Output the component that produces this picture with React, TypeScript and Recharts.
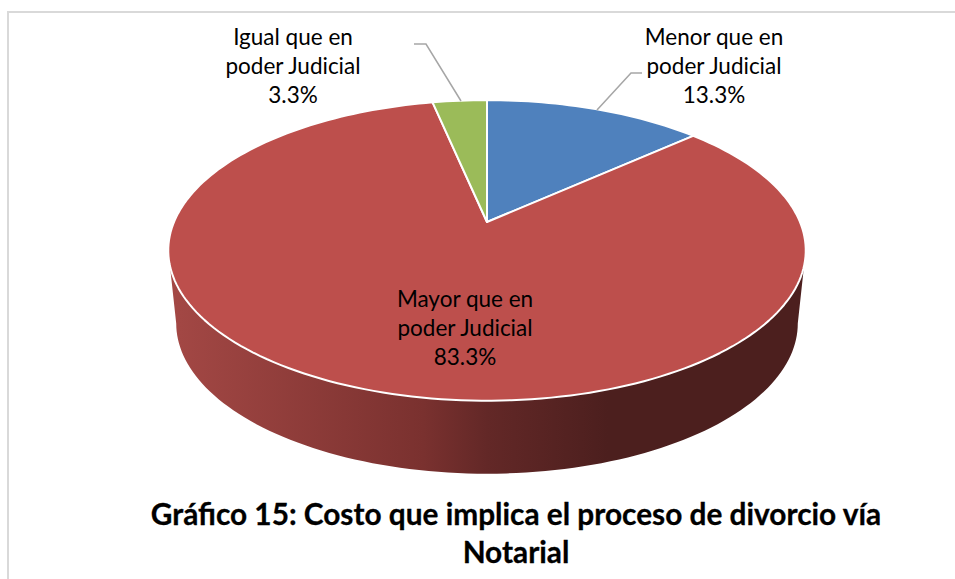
import React from "react";
import { PieChart, Pie, Cell } from "recharts";

const categories = ["Menor que en poder Judicial", "Mayor que en poder Judicial", "Igual que en poder Judicial"];
const labelLines = [
  ["Menor que en", "poder Judicial"],
  ["Mayor que en", "poder Judicial"],
  ["Igual que en", "poder Judicial"],
];
const values = [13.3, 83.3, 3.3];
const COLORS = ["#4f81bd", "#bd4f4c", "#9bbb59"];

const chartData = categories.map((name, i) => ({ name, value: values[i] }));

// perspective of the tilted disc
const TILT = 0.329;
const PERSPECTIVE = 0.189;
const DEPTH = 73;
const BASE_SCALE = 0.975;
// angle where the rim reaches its widest point, the wall starts there
const SILHOUETTE = (Math.asin(PERSPECTIVE) * 180) / Math.PI;

function project(cx: number, cy: number, r: number, angle: number) {
  const rad = (angle * Math.PI) / 180;
  const u = Math.cos(rad);
  const v = Math.sin(rad);
  const w = 1 + PERSPECTIVE * v;
  return { x: cx + (r * u) / w, y: (cy - r * TILT * v) / w };
}

function rimPoints(cx: number, cy: number, r: number, start: number, end: number) {
  const steps = Math.max(2, Math.ceil(Math.abs(end - start) / 1.5));
  const pts = [];
  for (let i = 0; i <= steps; i++) {
    pts.push(project(cx, cy, r, start + ((end - start) * i) / steps));
  }
  return pts;
}

const toPath = (pts: { x: number; y: number }[]) =>
  pts.map((p, i) => `${i ? "L" : "M"}${p.x.toFixed(2)},${p.y.toFixed(2)}`).join(" ");

function Slice(props: any) {
  const { cx, cy, outerRadius, startAngle, endAngle, fill } = props;
  const rim = rimPoints(cx, cy, outerRadius, startAngle, endAngle);
  const face = `M${cx},${cy} ${toPath(rim).replace("M", "L")} Z`;

  // front wall only for the part of the rim that faces the viewer
  const from = Math.max(Math.min(startAngle, endAngle), -180 + SILHOUETTE);
  const to = Math.min(Math.max(startAngle, endAngle), -SILHOUETTE);
  let wall = null;
  if (to > from) {
    const top = rimPoints(cx, cy, outerRadius, from, to);
    const bottom = top
      .map((p) => ({ x: cx + (p.x - cx) * BASE_SCALE, y: p.y + DEPTH }))
      .reverse();
    wall = <path d={`${toPath(top)} ${toPath(bottom).replace("M", "L")} Z`} fill="url(#wallShade)" />;
  }
  return (
    <g>
      {wall}
      <path d={face} fill={fill} stroke="#ffffff" strokeWidth={2} strokeLinejoin="round" />
    </g>
  );
}

const LABEL_SPOTS = [
  { x: 714, y: 45 },
  { x: 465, y: 307 },
  { x: 293, y: 45 },
];
const LEADERS = ["M642,73 L631,73 L597,110", "", "M414,44 L426,44 L461,101"];
const LINE_STEP = 29;

function SliceLabel(props: any) {
  const i = props.index;
  const spot = LABEL_SPOTS[i];
  const rows = [...labelLines[i], `${values[i].toFixed(1)}%`];
  return (
    <g>
      {LEADERS[i] && <path d={LEADERS[i]} fill="none" stroke="#a6a6a6" strokeWidth={1.5} />}
      {rows.map((row, r) => (
        <text
          key={r}
          x={spot.x}
          y={spot.y + r * LINE_STEP}
          textAnchor="middle"
          fontFamily="Lato"
          fontSize={22.5}
          fill="#000000"
        >
          {row}
        </text>
      ))}
    </g>
  );
}

export default function App() {
  return (
    <div style={{ position: "absolute", left: 0, top: 0, width: 955, height: 579, background: "#fff", overflow: "hidden" }}>
      <div style={{ position: "absolute", left: 7, top: 11, width: 948, height: 568, borderLeft: "2px solid #d9d9d9", borderTop: "2px solid #d9d9d9", boxSizing: "border-box" }} />
      <div style={{ position: "absolute", left: 0, top: 0 }}>
        <PieChart width={955} height={579} margin={{ top: 0, right: 0, bottom: 0, left: 0 }}>
          <defs>
            <linearGradient id="wallShade" gradientUnits="userSpaceOnUse" x1="168" y1="0" x2="806" y2="0">
              <stop offset="0" stopColor="#a44845" />
              <stop offset="0.4" stopColor="#7a312f" />
              <stop offset="0.5" stopColor="#632827" />
              <stop offset="0.69" stopColor="#4c1f1e" />
              <stop offset="1" stopColor="#4c1f1e" />
            </linearGradient>
          </defs>
          <Pie
            data={chartData}
            dataKey="value"
            nameKey="name"
            cx={487}
            cy={222}
            innerRadius={0}
            outerRadius={313}
            startAngle={90}
            endAngle={-270}
            paddingAngle={0}
            stroke="#ffffff"
            isAnimationActive={false}
            shape={Slice}
            label={SliceLabel}
            labelLine={false}
          >
            {chartData.map((entry, index) => (
              <Cell key={`cell-${index}`} fill={COLORS[index]} />
            ))}
          </Pie>
        </PieChart>
      </div>
      <div style={{ position: "absolute", left: 100, top: 495, width: 832, textAlign: "center", fontFamily: "Lato", fontWeight: 700, fontSize: 29.8, lineHeight: "38px", color: "#000", WebkitTextStroke: "0.3px #000" }}>
        Gráfico 15: Costo que implica el proceso de divorcio vía
        <br />
        Notarial
      </div>
    </div>
  );
}
